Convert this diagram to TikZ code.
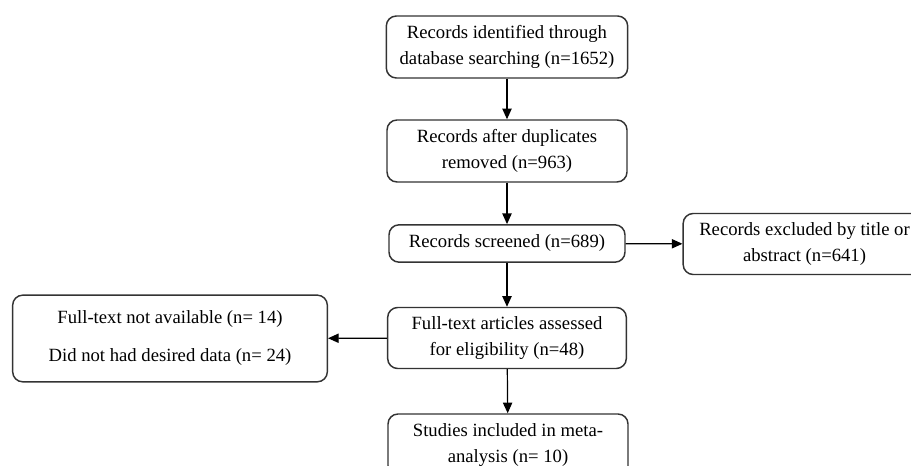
\documentclass[tikz,border=0pt]{standalone}
\usepackage{fontspec}
\setmainfont{Liberation Serif}
\usetikzlibrary{arrows.meta}

\begin{document}
\begin{tikzpicture}[x=0.75pt, y=-0.75pt,
    every node/.style={draw=black!80, line width=1.1pt, rounded corners=7.5pt,
      align=center, inner sep=0pt, font=\fontsize{14}{19.5}\selectfont},
    flow/.style={-{Triangle[length=8pt, width=7pt]}, line width=0.9pt}]
  \useasboundingbox (0,0) rectangle (911,466);
  \clip (0,0) rectangle (911,466);
  % Cajas
  \node[minimum width=181pt, minimum height=46.5pt] (ident) at (507,47) {Records identified through\\database searching (n=1652)};
  \node[minimum width=180pt, minimum height=46.5pt] (dupl) at (507,151) {Records after duplicates\\removed (n=963)};
  \node[minimum width=177pt, minimum height=28pt] (screen) at (507,243.5) {Records screened (n=689)};
  \node[minimum width=182pt, minimum height=45.75pt] (excl) at (804.5,244) {Records excluded by title or\\abstract (n=641)};
  \node[minimum width=236pt, minimum height=65pt] (notav) at (170,338.5) {Full-text not available (n= 14)\\[9pt]Did not had desired data (n= 24)};
  \node[minimum width=179pt, minimum height=45.75pt] (elig) at (507,338) {Full-text articles assessed\\for eligibility (n=48)};
  \node[minimum width=180pt, minimum height=46.5pt] (incl) at (508,445) {Studies included in meta-\\analysis (n= 10)};

  % Flechas
  \draw[flow] (ident) -- (dupl);
  \draw[flow] (dupl) -- (screen);
  \draw[flow] (screen) -- (excl);
  \draw[flow] (screen) -- (elig);
  \draw[flow] (elig) -- (notav);
  \draw[flow] (elig) -- (incl);
\end{tikzpicture}
\end{document}
